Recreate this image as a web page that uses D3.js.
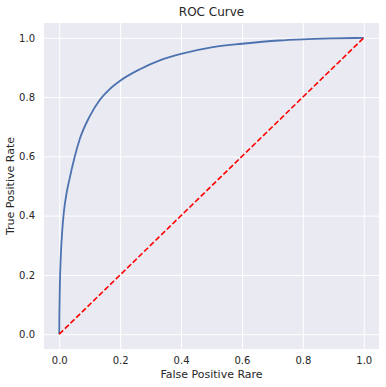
<!DOCTYPE html>
<html>
<head>
<meta charset="utf-8">
<script src="https://cdn.jsdelivr.net/npm/d3@7"></script>
<style>
  body { margin: 0; background: #fff; }
  svg { display: block; font-family: "DejaVu Sans", sans-serif; }
</style>
</head>
<body>
<svg id="chart"></svg>
<script>
// values
const fpr = [0, 0.0005, 0.002, 0.005, 0.01, 0.015, 0.024, 0.033, 0.05, 0.068, 0.1, 0.133, 0.165, 0.2, 0.265, 0.33, 0.4, 0.5, 0.6, 0.72, 0.8, 0.9, 1.0];
const tpr = [0, 0.06, 0.16, 0.26, 0.35, 0.41, 0.475, 0.52, 0.595, 0.66, 0.735, 0.79, 0.826, 0.855, 0.894, 0.924, 0.946, 0.968, 0.98, 0.991, 0.995, 0.998, 1.0];
const diagX = [0, 1];
const diagY = [0, 1];
const xTicks = [0, 0.2, 0.4, 0.6, 0.8, 1.0];
const yTicks = [0, 0.2, 0.4, 0.6, 0.8, 1.0];
const title = "ROC Curve";
const xLabel = "False Positive Rare";
const yLabel = "True Positive Rate";

const width = 386, height = 387;
const margin = { top: 23, right: 7, bottom: 38, left: 44 };
const textColor = "#262626";

const svg = d3.select("#chart")
  .attr("width", width)
  .attr("height", height);

const x = d3.scaleLinear().domain([-0.05, 1.05]).range([margin.left, width - margin.right]);
const y = d3.scaleLinear().domain([-0.05, 1.05]).range([height - margin.bottom, margin.top]);

// background panel
svg.append("rect")
  .attr("x", margin.left)
  .attr("y", margin.top)
  .attr("width", width - margin.left - margin.right)
  .attr("height", height - margin.top - margin.bottom)
  .attr("fill", "#eaeaf2");

// grid lines
svg.append("g")
  .attr("transform", `translate(0,${margin.top})`)
  .call(d3.axisBottom(x).tickValues(xTicks).tickSize(height - margin.top - margin.bottom).tickFormat(""))
  .call(g => g.select(".domain").remove())
  .call(g => g.selectAll("line").attr("stroke", "#fff").attr("stroke-width", 1));

svg.append("g")
  .attr("transform", `translate(${margin.left},0)`)
  .call(d3.axisRight(y).tickValues(yTicks).tickSize(width - margin.left - margin.right).tickFormat(""))
  .call(g => g.select(".domain").remove())
  .call(g => g.selectAll("line").attr("stroke", "#fff").attr("stroke-width", 1));

// tick labels
svg.append("g")
  .attr("transform", `translate(0,${height - margin.bottom})`)
  .call(d3.axisBottom(x).tickValues(xTicks).tickSize(0).tickPadding(8).tickFormat(d3.format(".1f")))
  .call(g => g.select(".domain").remove())
  .call(g => g.selectAll("text").attr("fill", textColor).style("font-size", "10px").style("font-family", "DejaVu Sans"));

svg.append("g")
  .attr("transform", `translate(${margin.left},0)`)
  .call(d3.axisLeft(y).tickValues(yTicks).tickSize(0).tickPadding(9).tickFormat(d3.format(".1f")))
  .call(g => g.select(".domain").remove())
  .call(g => g.selectAll("text").attr("fill", textColor).style("font-size", "10px").style("font-family", "DejaVu Sans"));

const line = d3.line()
  .x(d => x(d[0]))
  .y(d => y(d[1]));

// ROC curve
svg.append("path")
  .datum(fpr.map((f, i) => [f, tpr[i]]))
  .attr("fill", "none")
  .attr("stroke", "#4c72b0")
  .attr("stroke-width", 1.8)
  .attr("d", line.curve(d3.curveMonotoneX));

// chance line
svg.append("path")
  .datum(diagX.map((f, i) => [f, diagY[i]]))
  .attr("fill", "none")
  .attr("stroke", "red")
  .attr("stroke-width", 1.6)
  .attr("stroke-dasharray", "5.5,2.4")
  .attr("d", line.curve(d3.curveLinear));

// title and labels
svg.append("text")
  .attr("x", (margin.left + width - margin.right) / 2)
  .attr("y", 16)
  .attr("text-anchor", "middle")
  .attr("fill", textColor)
  .style("font-size", "12px")
  .text(title);

svg.append("text")
  .attr("x", (margin.left + width - margin.right) / 2)
  .attr("y", 378)
  .attr("text-anchor", "middle")
  .attr("fill", textColor)
  .style("font-size", "11px")
  .text(xLabel);

svg.append("text")
  .attr("transform", `translate(14,${(margin.top + height - margin.bottom) / 2}) rotate(-90)`)
  .attr("text-anchor", "middle")
  .attr("fill", textColor)
  .style("font-size", "11px")
  .text(yLabel);
</script>
</body>
</html>
